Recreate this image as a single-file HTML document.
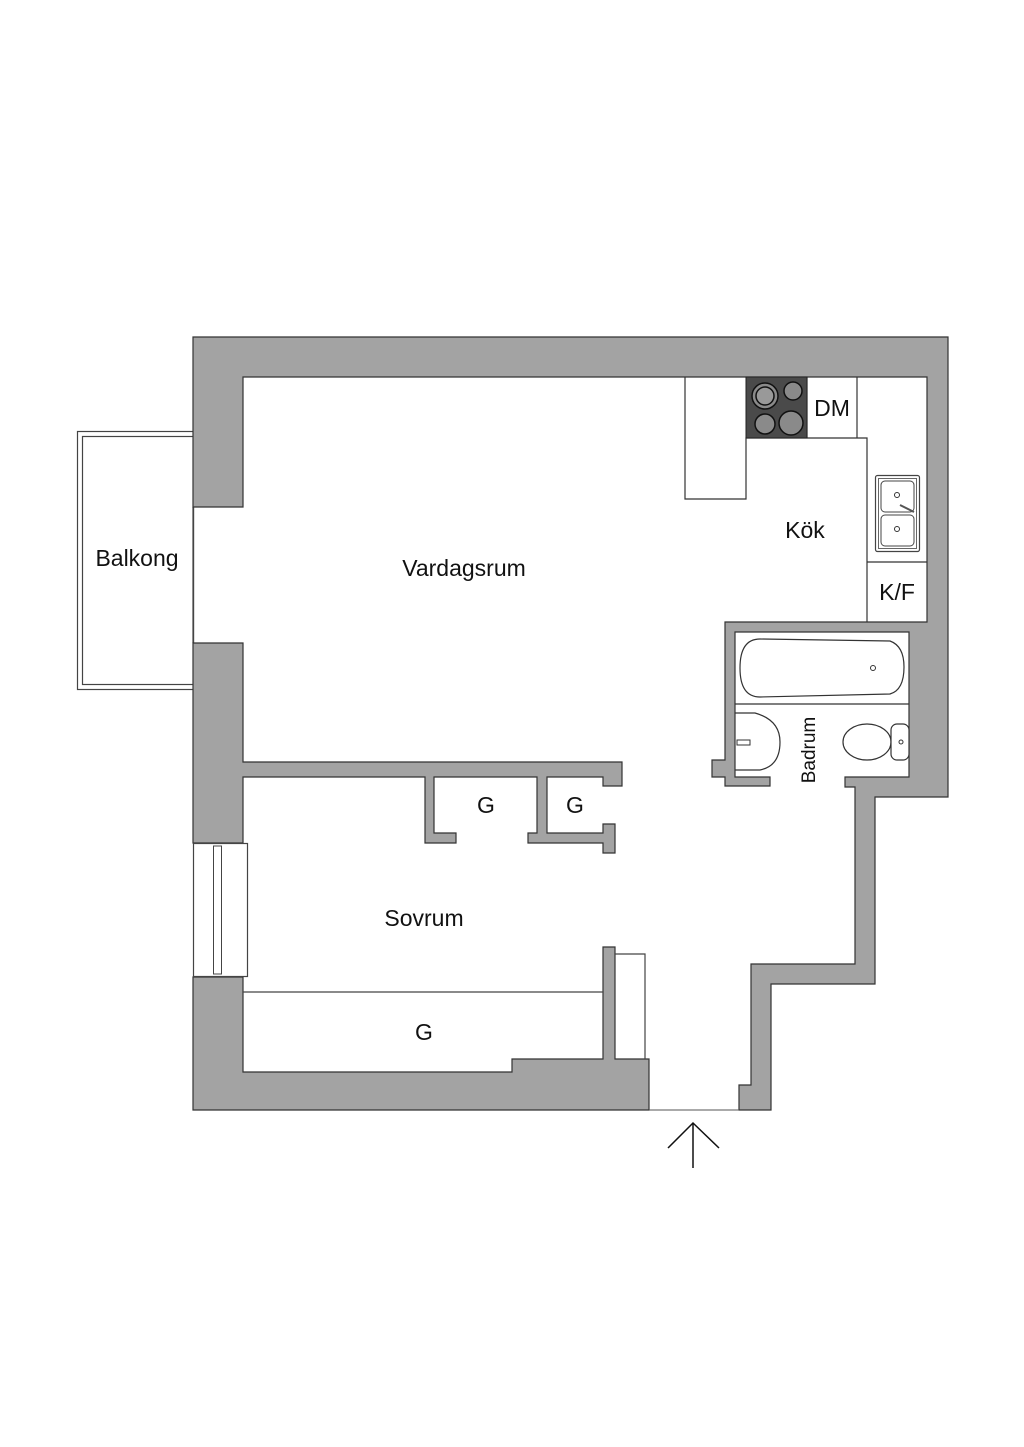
<!DOCTYPE html>
<html><head><meta charset="utf-8"><style>
html,body{margin:0;padding:0;background:#fff;}
svg{display:block;}
text{font-family:"Liberation Sans",sans-serif;fill:#111;}
</style></head><body>
<svg width="1024" height="1447" viewBox="0 0 1024 1447" xmlns="http://www.w3.org/2000/svg">
<rect width="1024" height="1447" fill="#fff"/>
<!-- balcony -->
<rect x="77.5" y="431.5" width="116" height="258" fill="none" stroke="#444" stroke-width="1.2"/>
<rect x="82.5" y="436.5" width="111" height="248" fill="none" stroke="#444" stroke-width="1.2"/>
<line x1="193" y1="507" x2="193" y2="643" stroke="#444" stroke-width="1.2"/>
<!-- walls -->
<g fill="#a3a3a3" stroke="#333" stroke-width="1.2" stroke-linejoin="miter">
<polygon points="193,507 193,337 948,337 948,797 875,797 875,984 771,984 771,1110 739,1110 739,1085 751,1085 751,964 855,964 855,787 845,787 845,777 909,777 909,632 735,632 735,777 770,777 770,786 725,786 725,777 712,777 712,760 725,760 725,622 927,622 927,377 243,377 243,507"/>
<polygon points="193,643 243,643 243,762 622,762 622,786 603,786 603,777 547,777 547,833 603,833 603,824 615,824 615,853 603,853 603,843 528,843 528,833 537,833 537,777 434,777 434,833 456,833 456,843 425,843 425,777 243,777 243,843 193,843"/>
<polygon points="193,977 243,977 243,1072 512,1072 512,1059 603,1059 603,947 615,947 615,1059 649,1059 649,1110 193,1110"/>
</g>
<!-- door opening line -->
<line x1="649" y1="1110" x2="739" y2="1110" stroke="#555" stroke-width="1"/>
<!-- bedroom window -->
<rect x="193.5" y="843.5" width="54" height="133" fill="#fff" stroke="#444" stroke-width="1.2"/>
<rect x="213.5" y="846" width="8" height="128" fill="none" stroke="#444" stroke-width="1"/>
<!-- closet shelf and side -->
<line x1="243" y1="992" x2="603" y2="992" stroke="#444" stroke-width="1.2"/>
<polyline points="615,954 645,954 645,1059" fill="none" stroke="#444" stroke-width="1.2"/>
<!-- kitchen -->
<g fill="none" stroke="#333" stroke-width="1.2">
<polyline points="685,377 685,499 746,499 746,438 867,438 867,622"/>
<line x1="857" y1="377" x2="857" y2="438"/>
<line x1="807" y1="377" x2="807" y2="438"/>
<line x1="867" y1="562" x2="927" y2="562"/>
</g>
<rect x="746" y="377" width="61" height="61" fill="#4a4a4a" stroke="#222"/>
<g stroke="#111" stroke-width="1.5" fill="#8a8a8a">
<circle cx="765" cy="396" r="13"/><circle cx="765" cy="396" r="9" fill="#999"/>
<circle cx="793" cy="391" r="9"/>
<circle cx="765" cy="424" r="10"/>
<circle cx="791" cy="423" r="12"/>
</g>
<!-- sink -->
<rect x="875.5" y="475.5" width="44" height="76" rx="2" fill="#fff" stroke="#444" stroke-width="1.2"/>
<rect x="878.5" y="478.5" width="38" height="70" fill="none" stroke="#666" stroke-width="1"/>
<rect x="881" y="481" width="33" height="31" rx="4" fill="none" stroke="#444"/>
<rect x="881" y="515" width="33" height="31" rx="4" fill="none" stroke="#444"/>
<circle cx="897" cy="495" r="2.5" fill="none" stroke="#333"/>
<circle cx="897" cy="529" r="2.5" fill="none" stroke="#333"/>
<line x1="900" y1="505" x2="914" y2="512" stroke="#555" stroke-width="2"/>
<!-- bathroom -->
<path d="M760,639 L890,641 Q904,646 904,667 Q904,690 890,694 L760,697 Q740,697 740,668 Q740,639 760,639 Z" fill="#fff" stroke="#333" stroke-width="1.2"/>
<circle cx="873" cy="668" r="2.5" fill="none" stroke="#333"/>
<line x1="735" y1="704" x2="909" y2="704" stroke="#333" stroke-width="1.2"/>
<path d="M735,713 L755,713 Q780,720 780,742 Q780,766 760,770 L735,770" fill="none" stroke="#333" stroke-width="1.2"/>
<path d="M737,740 L750,740 L750,745 L737,745 Z" fill="none" stroke="#333"/>
<ellipse cx="867" cy="742" rx="24" ry="18" fill="#fff" stroke="#333" stroke-width="1.2"/>
<rect x="891" y="724" width="18" height="36" rx="6" fill="#fff" stroke="#333" stroke-width="1.2"/>
<circle cx="901" cy="742" r="2" fill="none" stroke="#333"/>
<!-- labels -->
<g font-size="23">
<text x="464" y="576" text-anchor="middle">Vardagsrum</text>
<text x="137" y="566" text-anchor="middle">Balkong</text>
<text x="805" y="538" text-anchor="middle">Kök</text>
<text x="832" y="416" text-anchor="middle">DM</text>
<text x="897" y="600" text-anchor="middle">K/F</text>
<text x="486" y="813" text-anchor="middle">G</text>
<text x="575" y="813" text-anchor="middle">G</text>
<text x="424" y="926" text-anchor="middle">Sovrum</text>
<text x="424" y="1040" text-anchor="middle">G</text>
<text x="0" y="0" font-size="19" text-anchor="middle" transform="translate(815,750) rotate(-90)">Badrum</text>
</g>
<!-- entrance arrow -->
<g stroke="#111" stroke-width="1.5" fill="none">
<line x1="693" y1="1124" x2="693" y2="1168"/>
<polyline points="668,1148 693,1123 719,1148"/>
</g>
</svg>
</body></html>
